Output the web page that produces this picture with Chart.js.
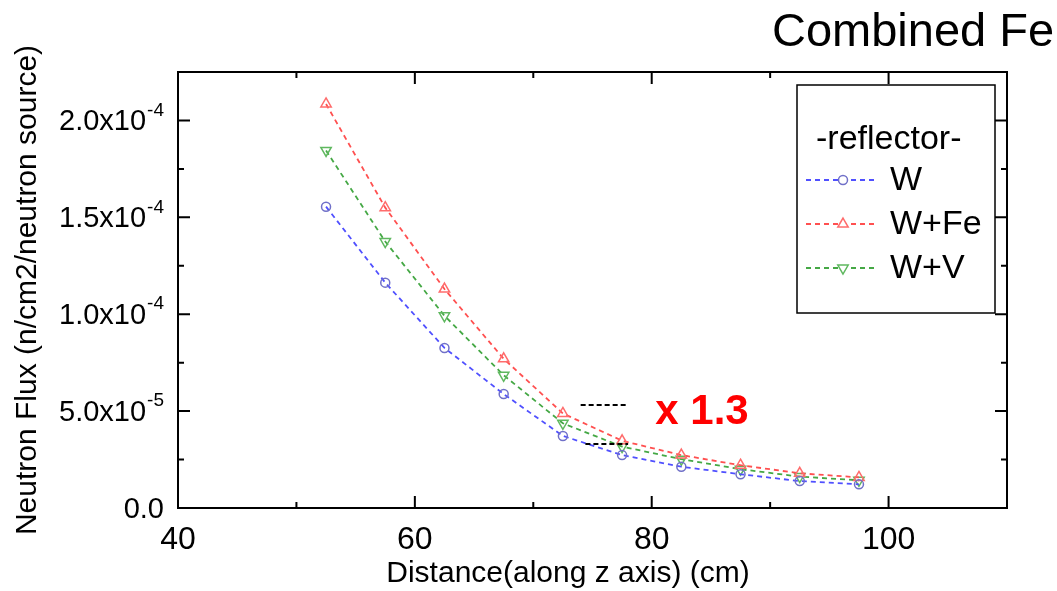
<!DOCTYPE html>
<html>
<head>
<meta charset="utf-8">
<script src="https://cdn.jsdelivr.net/npm/chart.js@4.4.1/dist/chart.umd.min.js"></script>
<style>
    html, body { margin: 0; padding: 0; background: #fff; overflow: hidden; }
    #contenedor { position: relative; width: 1057px; height: 591px; overflow: hidden; }
    #nota {
        position: absolute; left: 772px; top: 6px;
        font: 47px "Liberation Sans", Arial, sans-serif; line-height: 1;
        color: #000; white-space: nowrap;
    }
</style>
</head>
<body>
<div id="contenedor">
    <canvas id="flujo" width="1057" height="591"></canvas>
    <div id="nota">Combined Fe</div>
</div>
<script>
    // datos
    const distancia = [52.5, 57.5, 62.5, 67.5, 72.5, 77.5, 82.5, 87.5, 92.5, 97.5];
    const flujoW   = [1.555e-4, 1.163e-4, 8.26e-5, 5.88e-5, 3.72e-5, 2.73e-5, 2.13e-5, 1.74e-5, 1.39e-5, 1.22e-5];
    const flujoWFe = [2.085e-4, 1.55e-4, 1.13e-4, 7.7e-5, 4.88e-5, 3.47e-5, 2.73e-5, 2.21e-5, 1.79e-5, 1.58e-5];
    const flujoWV  = [1.845e-4, 1.375e-4, 9.92e-5, 6.85e-5, 4.37e-5, 3.17e-5, 2.52e-5, 2.0e-5, 1.62e-5, 1.43e-5];
    const nombresSerie = ["W", "W+Fe", "W+V"];

    const ticksX = [40, 60, 80, 100];
    const ticksXMenores = [50, 70, 90];
    const ticksY = [0, 5e-5, 1e-4, 1.5e-4, 2e-4];
    const ticksYMenores = [2.5e-5, 7.5e-5, 1.25e-4, 1.75e-4];
    const etiquetasY = [["0.0", ""], ["5.0x10", "-5"], ["1.0x10", "-4"], ["1.5x10", "-4"], ["2.0x10", "-4"]];
    const tituloX = "Distance(along z axis) (cm)";

    // marcas "x 1.3"
    const lineasRef = [
        { x0: 74.0, x1: 77.9, y: 5.31e-5 },
        { x0: 74.4, x1: 78.0, y: 3.30e-5 },
    ];
    const textoRef = { x: 80.3, y: 4.95e-5, texto: "x 1.3" };

    const FUENTE = '"Liberation Sans", Arial, sans-serif';

    const marco = {
        id: "marco",
        afterDraw(chart) {
            const ctx = chart.ctx;
            const { left, right, top, bottom } = chart.chartArea;
            const sx = chart.scales.x;
            const sy = chart.scales.y;

            ctx.save();
            ctx.strokeStyle = "#000";
            ctx.lineWidth = 2;
            ctx.strokeRect(left, top, right - left, bottom - top);

            // ticks hacia adentro en los cuatro lados
            const marcaX = (v, largo) => {
                const px = sx.getPixelForValue(v);
                ctx.beginPath();
                ctx.moveTo(px, bottom); ctx.lineTo(px, bottom - largo);
                ctx.moveTo(px, top); ctx.lineTo(px, top + largo);
                ctx.stroke();
            };
            const marcaY = (v, largo) => {
                const py = sy.getPixelForValue(v);
                ctx.beginPath();
                ctx.moveTo(left, py); ctx.lineTo(left + largo, py);
                ctx.moveTo(right, py); ctx.lineTo(right - largo, py);
                ctx.stroke();
            };
            ticksX.forEach((v) => marcaX(v, 12));
            ticksXMenores.forEach((v) => marcaX(v, 6));
            ticksY.forEach((v) => marcaY(v, 12));
            ticksYMenores.forEach((v) => marcaY(v, 6));

            // etiquetas del eje y con exponente
            ctx.fillStyle = "#000";
            ctx.textAlign = "right";
            ctx.textBaseline = "middle";
            ticksY.forEach((v, i) => {
                const py = sy.getPixelForValue(v);
                const [base, exp] = etiquetasY[i];
                let xd = 164;
                if (exp) {
                    ctx.font = "19px " + FUENTE;
                    ctx.fillText(exp, xd, py - 10);
                    xd -= ctx.measureText(exp).width + 1;
                }
                ctx.font = "29px " + FUENTE;
                ctx.fillText(base, xd, py + 2);
            });

            // titulo del eje x (algo corrido a la izquierda en el original)
            ctx.textAlign = "center";
            ctx.font = "30px " + FUENTE;
            ctx.fillText(tituloX, 568, 574);

            // referencia x 1.3
            ctx.setLineDash([5, 3]);
            ctx.lineWidth = 2;
            lineasRef.forEach((l) => {
                const py = sy.getPixelForValue(l.y);
                ctx.beginPath();
                ctx.moveTo(sx.getPixelForValue(l.x0), py);
                ctx.lineTo(sx.getPixelForValue(l.x1), py);
                ctx.stroke();
            });
            ctx.setLineDash([]);
            ctx.fillStyle = "#ff0000";
            ctx.font = "bold 42px " + FUENTE;
            ctx.textAlign = "left";
            ctx.fillText(textoRef.texto, sx.getPixelForValue(textoRef.x), sy.getPixelForValue(textoRef.y));

            // leyenda
            const lx = 797, ly = 85, lw = 198, lh = 228;
            ctx.fillStyle = "#fff";
            ctx.fillRect(lx, ly, lw, lh);
            ctx.strokeStyle = "#000";
            ctx.lineWidth = 1.5;
            ctx.strokeRect(lx, ly, lw, lh);
            ctx.fillStyle = "#000";
            ctx.font = "34px " + FUENTE;
            ctx.textAlign = "left";
            ctx.fillText("-reflector-", 816, 140);
            chart.data.datasets.forEach((ds, i) => {
                const fy = 180 + i * 44;
                ctx.strokeStyle = ds.borderColor;
                ctx.lineWidth = ds.borderWidth;
                ctx.setLineDash(ds.borderDash);
                ctx.beginPath();
                ctx.moveTo(806, fy);
                ctx.lineTo(878, fy);
                ctx.stroke();
                ctx.setLineDash([]);
                ctx.fillStyle = "#fff";
                ctx.strokeStyle = ds.pointBorderColor;
                ctx.lineWidth = ds.pointBorderWidth;
                Chart.helpers.drawPoint(ctx, {
                    pointStyle: ds.pointStyle,
                    rotation: ds.pointRotation || 0,
                    radius: ds.pointRadius,
                    borderWidth: ds.pointBorderWidth,
                }, 843, fy);
                ctx.fillStyle = "#000";
                ctx.font = "34px " + FUENTE;
                ctx.fillText(ds.label, 890, fy + 1);
            });
            ctx.restore();
        },
    };

    const serie = (label, datos, linea, punto, estilo, radio, giro) => ({
        label: label,
        data: distancia.map((d, i) => ({ x: d, y: datos[i] })),
        showLine: true,
        borderColor: linea,
        borderWidth: 1.8,
        borderDash: [5, 4],
        tension: 0,
        pointStyle: estilo,
        pointRadius: radio,
        pointRotation: giro,
        pointBorderColor: punto,
        pointBorderWidth: 1.5,
        pointBackgroundColor: "rgba(255,255,255,0)",
    });

    Chart.defaults.font.family = FUENTE;
    Chart.defaults.color = "#000";

    new Chart(document.getElementById("flujo"), {
        type: "scatter",
        data: {
            datasets: [
                serie(nombresSerie[0], flujoW, "#5050ff", "#7070c8", "circle", 4.5, 0),
                serie(nombresSerie[1], flujoWFe, "#ff5050", "#ff6c6c", "triangle", 6, 0),
                serie(nombresSerie[2], flujoWV, "#45a845", "#5fb85f", "triangle", 6, 180),
            ],
        },
        options: {
            responsive: false,
            animation: false,
            devicePixelRatio: 1,
            layout: { padding: { top: 72, right: 50, left: 0, bottom: 0 } },
            plugins: {
                legend: { display: false },
                tooltip: { enabled: false },
            },
            scales: {
                x: {
                    type: "linear",
                    min: 40,
                    max: 110,
                    afterBuildTicks: (escala) => { escala.ticks = ticksX.map((v) => ({ value: v })); },
                    afterFit: (escala) => { escala.height = 83; },
                    grid: { display: false, drawTicks: false },
                    border: { display: false },
                    ticks: {
                        font: { size: 32 },
                        color: "#000",
                        padding: 13,
                        maxRotation: 0,
                        autoSkip: false,
                    },
                    title: { display: false },
                },
                y: {
                    min: 0,
                    max: 2.25e-4,
                    afterBuildTicks: (escala) => { escala.ticks = ticksY.map((v) => ({ value: v })); },
                    afterFit: (escala) => { escala.width = 178; },
                    grid: { display: false, drawTicks: false },
                    border: { display: false },
                    ticks: { display: false },
                    title: {
                        display: true,
                        text: "Neutron Flux (n/cm2/neutron source)",
                        font: { size: 30 },
                        color: "#000",
                        padding: { top: 10, bottom: 0 },
                    },
                },
            },
        },
        plugins: [marco],
    });
</script>
</body>
</html>
